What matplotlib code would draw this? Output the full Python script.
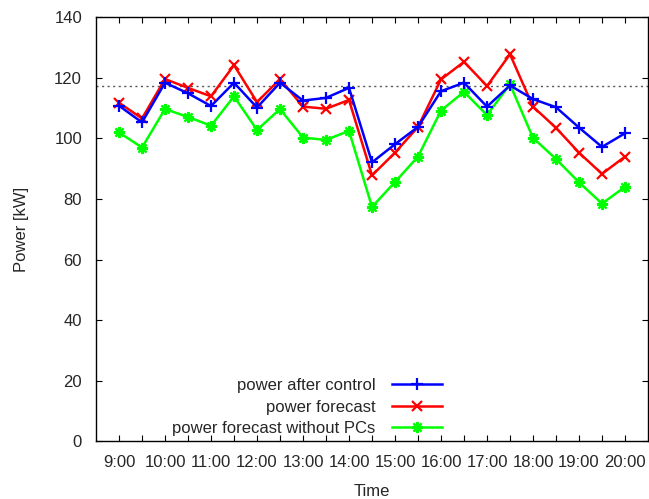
import matplotlib
matplotlib.use("Agg")
import matplotlib.pyplot as plt
import numpy as np

times = ["9:00", "9:30", "10:00", "10:30", "11:00", "11:30", "12:00", "12:30",
         "13:00", "13:30", "14:00", "14:30", "15:00", "15:30", "16:00", "16:30",
         "17:00", "17:30", "18:00", "18:30", "19:00", "19:30", "20:00"]

power_after_control = [110.8, 105.3, 118.4, 114.9, 110.7, 118.4, 110.2, 118.4,
                       112.5, 113.4, 116.7, 92.1, 98.1, 103.8, 115.6, 118.4,
                       110.5, 117.5, 113.0, 110.3, 103.6, 97.2, 101.7]
power_forecast = [111.8, 106.6, 119.6, 116.7, 113.9, 124.2, 112.0, 119.6,
                  110.5, 109.8, 112.7, 87.8, 95.3, 103.8, 119.5, 125.3,
                  117.3, 127.8, 110.5, 103.5, 95.3, 88.3, 94.0]
power_forecast_no_pc = [102.0, 97.0, 109.7, 107.1, 104.2, 113.9, 102.8, 109.7,
                        100.3, 99.5, 102.5, 77.4, 85.6, 94.0, 109.2, 115.4,
                        107.7, 117.9, 100.2, 93.2, 85.5, 78.5, 84.0]
limit = 117.3

yticks = [0, 20, 40, 60, 80, 100, 120, 140]

text_color = "#262626"
plt.rcParams['font.family'] = ['Liberation Sans', 'DejaVu Sans']
plt.rcParams['font.size'] = 12

fig = plt.figure(figsize=(6.49, 4.99), dpi=100)
ax = fig.add_axes([96/649, 1-441.3/499, 552/649, 424/499])

x = np.arange(len(times))
ax.axhline(limit, color="#555555", lw=1.0, ls=(0, (1.5, 2.5)), zorder=1)
ax.plot(x, power_after_control, color="#0000ff", lw=1.8, marker="+", ms=9, mew=1.6,
        label="power after control", zorder=4)
ax.plot(x, power_forecast, color="#ff0000", lw=1.8, marker="x", ms=7, mew=1.6,
        label="power forecast", zorder=3)
ax.plot(x, power_forecast_no_pc, color="#00ff00", lw=1.8, marker=(8, 2, 0), ms=8, mew=1.6,
        label="power forecast without PCs", zorder=2)

ax.set_xlim(-1, 23)
ax.set_ylim(0, 140)
ax.set_yticks(yticks)
ax.set_xticks(x)
ax.set_xticklabels([t if i % 2 == 0 else "" for i, t in enumerate(times)])
ax.tick_params(axis="both", direction="in", length=4, width=0.8, colors="black",
               labelcolor=text_color, top=True, right=True)
ax.tick_params(axis="x", pad=10)
ax.tick_params(axis="y", pad=10)
for s in ax.spines.values():
    s.set_linewidth(1.0)

ax.set_xlabel("Time", color=text_color, labelpad=10)
ax.set_ylabel("Power [kW]", color=text_color, labelpad=18)

leg = ax.legend(loc="lower right", bbox_to_anchor=(0.627, 0.012), frameon=False,
                markerfirst=False, handlelength=3.0, handletextpad=1.0,
                labelspacing=0.4, borderpad=0, borderaxespad=0)
for t in leg.get_texts():
    t.set_color(text_color)

fig.savefig("out.png", dpi=100)
